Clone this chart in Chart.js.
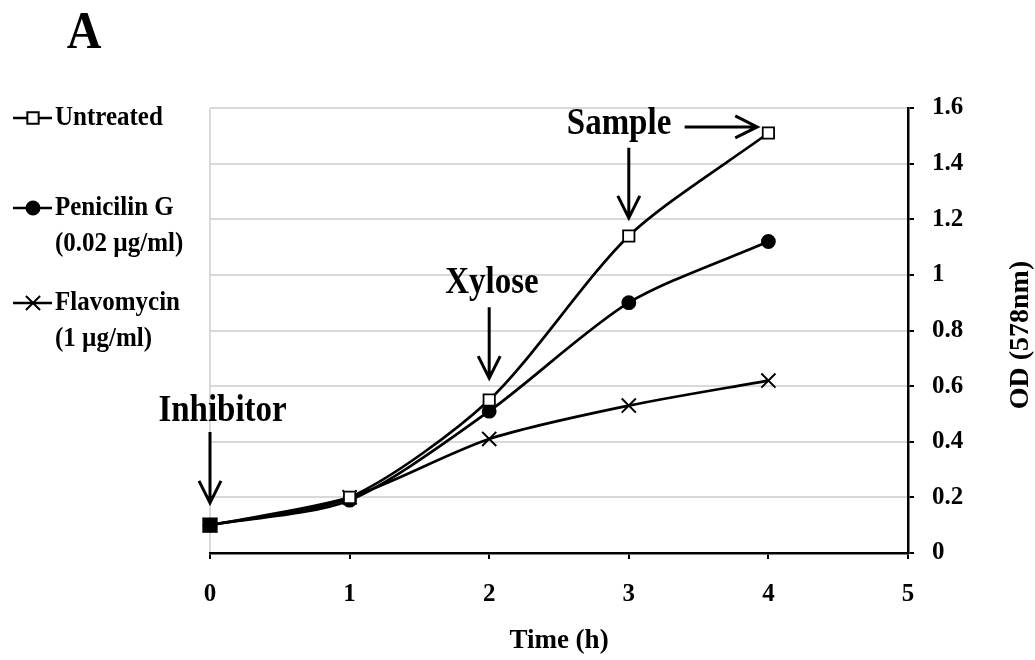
<!DOCTYPE html>
<html>
<head>
<meta charset="utf-8">
<script src="https://cdn.jsdelivr.net/npm/chart.js@4/dist/chart.umd.min.js"></script>
<style>
  body { margin: 0; background: #fff; }
  #wrap { width: 1035px; height: 660px; }
</style>
</head>
<body>
<div id="wrap"><canvas id="odChart" width="1035" height="660"></canvas></div>
<script>
// data
const times = [0, 1, 2, 3, 4];
const untreated = [0.10, 0.20, 0.55, 1.14, 1.51];
const penicillin = [0.10, 0.19, 0.51, 0.90, 1.12];
const flavomycin = [0.10, 0.20, 0.41, 0.53, 0.62];

const xTickLabels = ['0', '1', '2', '3', '4', '5'];
const yTickLabels = ['0', '0.2', '0.4', '0.6', '0.8', '1', '1.2', '1.4', '1.6'];

// annotation text + arrows, in data units
const notes = [
  { text: 'Inhibitor', x: 0.09, y: 0.51 },
  { text: 'Xylose', x: 2.02, y: 0.97 },
  { text: 'Sample', x: 2.93, y: 1.54 }
];
const arrows = [
  { x1: 0, y1: 0.435, x2: 0, y2: 0.18 },
  { x1: 2, y1: 0.884, x2: 2, y2: 0.629 },
  { x1: 3, y1: 1.457, x2: 3, y2: 1.205 },
  { x1: 3.40, y1: 1.532, x2: 3.92, y2: 1.532 }
];

const SERIF = "'Liberation Serif', 'Times New Roman', serif";
Chart.defaults.font.family = SERIF;
Chart.defaults.font.weight = 'bold';
Chart.defaults.color = '#000';

function pts(vals) {
  return times.map((t, i) => ({ x: t, y: vals[i] }));
}

function drawArrow(ctx, x1, y1, x2, y2) {
  const dx = x2 - x1, dy = y2 - y1;
  const len = Math.sqrt(dx * dx + dy * dy);
  const ux = dx / len, uy = dy / len;
  const hl = 22, hw = 11;
  ctx.beginPath();
  ctx.moveTo(x1, y1);
  ctx.lineTo(x2, y2);
  ctx.moveTo(x2 - ux * hl - uy * hw, y2 - uy * hl + ux * hw);
  ctx.lineTo(x2, y2);
  ctx.lineTo(x2 - ux * hl + uy * hw, y2 - uy * hl - ux * hw);
  ctx.stroke();
}

// text a bit taller than wide, like the scanned figure
function tallText(ctx, txt, x, y, sy) {
  ctx.save();
  ctx.translate(x, y);
  ctx.scale(1, sy);
  ctx.fillText(txt, 0, 0);
  ctx.restore();
}

/* ==========================
   EXTRAS: legend, arrows, labels
========================== */
const extras = {
  id: 'extras',
  afterDraw(chart) {
    const ctx = chart.ctx;
    const xs = chart.scales.x, ys = chart.scales.y;
    ctx.save();
    ctx.fillStyle = '#000';
    ctx.strokeStyle = '#000';

    // panel letter
    ctx.font = 'bold 48px ' + SERIF;
    ctx.textAlign = 'center';
    ctx.textBaseline = 'alphabetic';
    tallText(ctx, 'A', 84, 48, 1.1);

    // annotations
    ctx.font = 'bold 33px ' + SERIF;
    ctx.textBaseline = 'middle';
    notes.forEach(n => {
      tallText(ctx, n.text, xs.getPixelForValue(n.x), ys.getPixelForValue(n.y), 1.12);
    });
    ctx.lineWidth = 3;
    arrows.forEach(a => {
      drawArrow(ctx,
        xs.getPixelForValue(a.x1), ys.getPixelForValue(a.y1),
        xs.getPixelForValue(a.x2), ys.getPixelForValue(a.y2));
    });

    // y title, reading bottom to top
    ctx.save();
    ctx.translate(1021, 335);
    ctx.rotate(-Math.PI / 2);
    ctx.font = 'bold 28px ' + SERIF;
    ctx.fillText('OD (578nm)', 0, 0);
    ctx.restore();

    // legend
    const items = [
      { lines: ['Untreated'], y: 118, style: 'rect', r: 8, fill: '#fff' },
      { lines: ['Penicilin G', '(0.02 \u00b5g/ml)'], y: 208, style: 'circle', r: 6.5, fill: '#000' },
      { lines: ['Flavomycin', '(1 \u00b5g/ml)'], y: 303, style: 'crossRot', r: 10, fill: '#000' }
    ];
    ctx.font = 'bold 25px ' + SERIF;
    ctx.textAlign = 'left';
    items.forEach(it => {
      ctx.lineWidth = 2.5;
      ctx.beginPath();
      ctx.moveTo(13, it.y);
      ctx.lineTo(52, it.y);
      ctx.stroke();
      ctx.lineWidth = 2;
      ctx.fillStyle = it.fill;
      Chart.helpers.drawPoint(ctx, { pointStyle: it.style, radius: it.r, borderWidth: 2 }, 33, it.y);
      ctx.fillStyle = '#000';
      it.lines.forEach((t, k) => tallText(ctx, t, 55, it.y + k * 36, 1.1));
    });
    ctx.restore();
  }
};

const lineBase = {
  borderColor: '#000',
  borderWidth: 2.7,
  tension: 0.27,
  pointBorderColor: '#000',
  pointBorderWidth: 1.8,
  fill: false,
  clip: false
};

new Chart(document.getElementById('odChart'), {
  type: 'line',
  data: {
    datasets: [
      Object.assign({}, lineBase, {
        label: 'Untreated',
        data: pts(untreated),
        pointStyle: 'rect',
        pointRadius: c => c.dataIndex === 0 ? 9.5 : 8,
        pointBackgroundColor: c => c.dataIndex === 0 ? '#000' : '#fff',
        order: 0
      }),
      Object.assign({}, lineBase, {
        label: 'Penicilin G (0.02 \u00b5g/ml)',
        data: pts(penicillin),
        pointStyle: 'circle',
        pointRadius: 6.5,
        pointBackgroundColor: '#000',
        order: 1
      }),
      Object.assign({}, lineBase, {
        label: 'Flavomycin (1 \u00b5g/ml)',
        data: pts(flavomycin),
        pointStyle: 'crossRot',
        pointRadius: 10,
        pointBorderWidth: 2,
        order: 2
      })
    ]
  },
  options: {
    responsive: false,
    animation: false,
    layout: { padding: { left: 210, top: 108, right: 0, bottom: 0 } },
    plugins: { legend: { display: false }, tooltip: { enabled: false } },
    scales: {
      x: {
        type: 'linear',
        min: 0,
        max: 5,
        afterFit: s => { s.height = 107; },
        ticks: {
          stepSize: 1,
          padding: 21,
          font: { size: 25, weight: 'bold' },
          callback: v => xTickLabels[v]
        },
        grid: {
          color: c => c.tick && c.tick.value === 0 ? '#d9d9d9' : 'rgba(0,0,0,0)',
          lineWidth: 2,
          tickColor: '#000',
          tickLength: 6,
          tickWidth: 2
        },
        border: { color: '#000', width: 2.5 },
        title: {
          display: true,
          text: 'Time (h)',
          font: { size: 27, weight: 'bold' },
          padding: { top: 0, bottom: 3 }
        }
      },
      y: {
        position: 'right',
        min: 0,
        max: 1.6,
        afterFit: s => { s.width = 127; },
        ticks: {
          stepSize: 0.2,
          padding: 18,
          font: { size: 25, weight: 'bold' },
          callback: (v, i) => yTickLabels[i]
        },
        grid: {
          color: '#d9d9d9',
          lineWidth: 2,
          tickColor: '#000',
          tickLength: 6,
          tickWidth: 2
        },
        border: { color: '#000', width: 2.5 }
      }
    }
  },
  plugins: [extras]
});
</script>
</body>
</html>
